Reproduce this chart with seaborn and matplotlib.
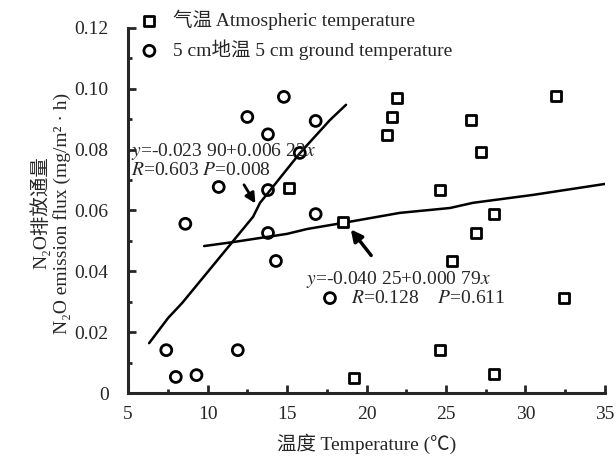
import matplotlib
matplotlib.use("Agg")
import matplotlib.pyplot as plt
import seaborn as sns
from matplotlib.ticker import MultipleLocator, FixedLocator

# Data
soil_t = [7.4, 8.0, 9.3, 8.6, 10.7, 12.5, 11.9, 13.8, 13.8, 13.8, 14.3, 14.8, 15.8, 16.8, 16.8, 17.7]
soil_f = [0.0141, 0.0053, 0.0059, 0.0556, 0.0677, 0.0907, 0.0141, 0.0850, 0.0667, 0.0526, 0.0434, 0.0973, 0.0789, 0.0894, 0.0588, 0.0312]

air_t = [15.1, 18.5, 19.2, 21.3, 21.6, 21.9, 24.6, 24.6, 25.4, 26.6, 26.9, 27.2, 28.0, 28.0, 31.9, 32.4]
air_f = [0.0674, 0.0562, 0.0049, 0.0848, 0.0907, 0.0970, 0.0667, 0.0141, 0.0434, 0.0897, 0.0526, 0.0792, 0.0588, 0.0062, 0.0976, 0.0312]

fit_soil_x = [6.32, 7.52, 8.40, 12.86, 13.30, 15.82, 17.70, 18.71]
fit_soil_y = [0.0164, 0.0247, 0.0296, 0.0579, 0.0625, 0.0789, 0.0897, 0.0947]

fit_air_x = [9.78, 11.60, 15.0, 16.26, 18.52, 22.1, 25.25, 26.70, 30.47, 35.0]
fit_air_y = [0.0483, 0.0496, 0.0523, 0.0539, 0.0559, 0.0592, 0.0608, 0.0625, 0.0651, 0.0687]

x_ticks = [5, 10, 15, 20, 25, 30, 35]
y_ticks = [0, 0.02, 0.04, 0.06, 0.08, 0.10, 0.12]
y_tick_labels = ["0", "0.02", "0.04", "0.06", "0.08", "0.10", "0.12"]

sns.set_style("ticks")
plt.rcParams['font.family'] = ['Liberation Serif', 'Noto Sans CJK SC', 'DejaVu Sans']
plt.rcParams['mathtext.fontset'] = 'stix'

fig = plt.figure(figsize=(6.16, 4.63), dpi=100)
ax = fig.add_axes([0.208, 0.151, 0.774, 0.789])

sns.scatterplot(x=air_t, y=air_f, ax=ax, marker='s', s=55, facecolor='white',
                edgecolor='black', linewidth=2.0, label='气温 Atmospheric temperature', zorder=3)
sns.scatterplot(x=soil_t, y=soil_f, ax=ax, marker='o', s=62, facecolor='none',
                edgecolor='black', linewidth=2.0, label='5 cm地温 5 cm ground temperature', zorder=3)

sns.lineplot(x=fit_soil_x, y=fit_soil_y, ax=ax, color='black', linewidth=1.8, sort=False, zorder=2)
sns.lineplot(x=fit_air_x, y=fit_air_y, ax=ax, color='black', linewidth=1.8, sort=False, zorder=2)

ax.set_xlim(5, 35)
ax.set_ylim(0, 0.12)
ax.xaxis.set_major_locator(FixedLocator(x_ticks))
ax.xaxis.set_minor_locator(MultipleLocator(2.5))
ax.yaxis.set_major_locator(FixedLocator(y_ticks))
ax.set_yticklabels(y_tick_labels)
ax.yaxis.set_minor_locator(MultipleLocator(0.01))
ax.tick_params(axis='both', which='major', direction='in', length=6, width=2, labelsize=14)
ax.tick_params(axis='y', which='major', pad=14)
ax.tick_params(axis='x', which='major', pad=9)
ax.tick_params(axis='both', which='minor', direction='in', length=3, width=2)
for s in ['left', 'bottom']:
    ax.spines[s].set_linewidth(2.2)
sns.despine(ax=ax)

ax.set_xlabel('温度 Temperature (℃)', fontsize=14, labelpad=8)
fig.text(0.065, 0.54, 'N₂O排放通量', rotation=90, ha='center', va='center', fontsize=14)
fig.text(0.100, 0.54, 'N₂O emission flux (mg/m² · h)', rotation=90, ha='center', va='center', fontsize=14)

ax.text(5.2, 0.0795, '$y$=-0.023 90+0.006 22$x$', fontsize=14, va='center')
ax.text(5.2, 0.0730, '$R$=0.603 $P$=0.008', fontsize=14, va='center')
ax.annotate('', xy=(13.1, 0.0615), xytext=(12.2, 0.0692),
            arrowprops=dict(arrowstyle='-|>', color='black', lw=2, mutation_scale=15))

ax.text(16.2, 0.0372, '$y$=-0.040 25+0.000 79$x$', fontsize=14, va='center')
ax.text(19.0, 0.0312, '$R$=0.128    $P$=0.611', fontsize=14, va='center')
ax.annotate('', xy=(18.9, 0.0545), xytext=(20.4, 0.0445),
            arrowprops=dict(arrowstyle='-|>', color='black', lw=2.5, mutation_scale=17))

if ax.legend_:
    ax.legend_.remove()
h, l = ax.get_legend_handles_labels()
fig.legend(h[:2], l[:2], loc='upper left', bbox_to_anchor=(0.192, 1.005), frameon=False,
           fontsize=14, handletextpad=0.2, labelspacing=0.5, borderaxespad=0.2)

fig.savefig('out.png', dpi=100)
